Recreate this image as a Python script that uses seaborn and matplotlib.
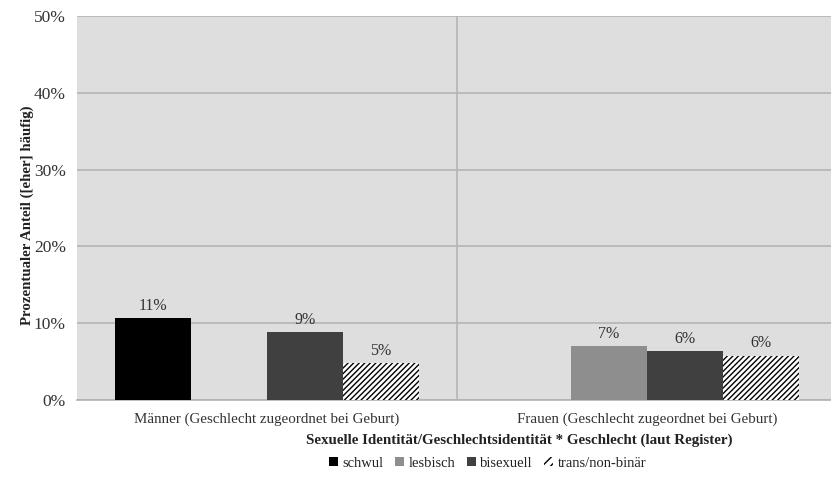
import pandas as pd
import matplotlib
matplotlib.use("Agg")
import matplotlib.pyplot as plt
import seaborn as sns
from matplotlib.patches import Patch

# Data (percent)
groups = ["Männer (Geschlecht zugeordnet bei Geburt)", "Frauen (Geschlecht zugeordnet bei Geburt)"]
identities = ["schwul", "lesbisch", "bisexuell", "trans/non-binär"]
schwul = [10.7, None]
lesbisch = [None, 7.0]
bisexuell = [8.8, 6.4]
trans = [4.8, 5.8]

colors = ["#000000", "#8e8e8e", "#404040", "#ffffff"]

rows = []
for name, vals in zip(identities, [schwul, lesbisch, bisexuell, trans]):
    for g, v in zip(groups, vals):
        rows.append({"Gruppe": g, "Identität": name, "Anteil": v})
df = pd.DataFrame(rows)

sns.set_theme(style="white")
plt.rcParams['font.family'] = ['Liberation Serif', 'DejaVu Serif']

fig = plt.figure(figsize=(8.31, 4.78), dpi=100)
ax = fig.add_axes([0.0927, 0.163, 0.9073, 0.8035])
ax.set_facecolor("#dedede")

sns.barplot(data=df, x="Gruppe", y="Anteil", hue="Identität", order=groups,
            hue_order=identities, palette=colors, width=0.8, ax=ax,
            legend=False, saturation=1, linewidth=0, zorder=3)

# hatch for trans/non-binär
for bar in ax.containers[3]:
    bar.set_hatch("//////")
    bar.set_edgecolor("#000000")
    bar.set_linewidth(0)

for cont in ax.containers:
    labels = []
    for bar in cont:
        h = bar.get_height()
        labels.append("" if pd.isna(h) or h == 0 else f"{round(h):.0f}%")
    ax.bar_label(cont, labels=labels, padding=3, fontsize=11.5, color="#333333")

ax.set_ylim(0, 50)
ax.set_xlim(-0.5, 1.484)
ax.set_yticks(range(0, 51, 10))
ax.set_yticklabels([f"{t}%" for t in range(0, 51, 10)])
ax.yaxis.grid(True, color="#b4b4b4", linewidth=1.2, zorder=0)
ax.set_axisbelow(True)
ax.axvline(0.5, color="#b4b4b4", linewidth=1.2, zorder=1)
for s in ["top", "right", "left"]:
    ax.spines[s].set_visible(False)
ax.spines["bottom"].set_color("#b4b4b4")
ax.tick_params(axis="x", length=0, labelsize=10.8, colors="#333333", pad=9)
ax.tick_params(axis="y", length=0, labelsize=12.5, colors="#333333", pad=8)

ax.set_xlabel("Sexuelle Identität/Geschlechtsidentität * Geschlecht (laut Register)",
              fontsize=10.8, fontweight="bold", color="#222222")
ax.xaxis.set_label_coords(0.586, -0.087)
ax.set_ylabel("Prozentualer Anteil ([eher] häufig)", fontsize=10.7,
              fontweight="bold", color="#222222")
ax.yaxis.set_label_coords(-0.057, 0.48)

handles = []
for name, c in zip(identities, colors):
    if name == "trans/non-binär":
        handles.append(Patch(facecolor="white", edgecolor="black", hatch="////", linewidth=0, label=name))
    else:
        handles.append(Patch(facecolor=c, edgecolor="none", label=name))
fig.legend(handles=handles, loc="center", bbox_to_anchor=(0.587, 0.031), ncol=4,
           frameon=False, fontsize=10.5, handlelength=0.6, handleheight=0.6,
           handletextpad=0.3, columnspacing=0.8, labelcolor="#222222")

plt.savefig("out.png", dpi=100)
